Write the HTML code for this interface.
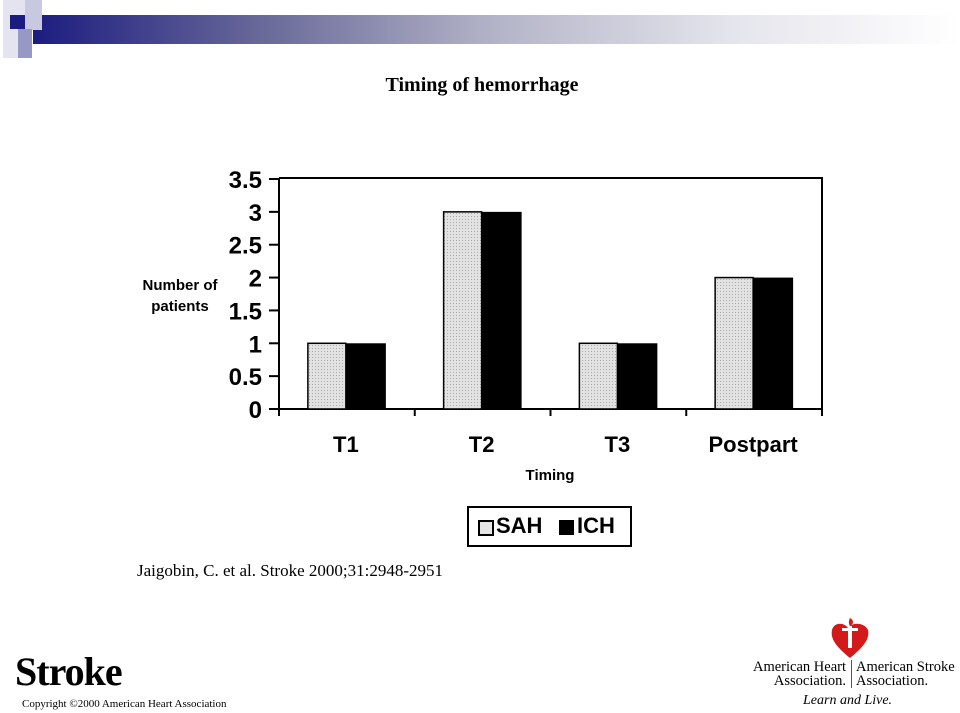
<!DOCTYPE html>
<html><head><meta charset="utf-8"><style>
body{margin:0;width:960px;height:713px;background:#fff;position:relative;overflow:hidden;font-family:"Liberation Serif",serif}
.abs{position:absolute}
.sans{font-family:"Liberation Sans",sans-serif;font-weight:bold}
</style></head><body>
<div class="abs" style="left:33px;top:15px;width:927px;height:29px;background:linear-gradient(to right,#1c1c80,#6a6a9a 25%,#b4b4c8 50%,#e4e4ec 75%,#fff)"></div>
<div class="abs" style="left:3px;top:0;width:23px;height:58px;background:#e4e4f0"></div>
<div class="abs" style="left:10px;top:15px;width:15px;height:14px;background:#1c1c80"></div>
<div class="abs" style="left:25px;top:0px;width:17px;height:30px;background:#c8c8e0"></div>
<div class="abs" style="left:18px;top:29px;width:14px;height:29px;background:#9898c4"></div>
<div class="abs" style="left:0;width:964px;top:74px;text-align:center;font-size:20px;font-weight:bold">Timing of hemorrhage</div>

<svg class="abs" style="left:0;top:0" width="960" height="713">
<defs><pattern id="dots" width="3" height="3" patternUnits="userSpaceOnUse"><rect width="3" height="3" fill="#e2e2e2"/><rect width="1" height="1" fill="#aaa"/></pattern></defs>
<g id="g"></g>
</svg>

<div class="abs sans" style="left:135px;top:275px;width:90px;text-align:center;font-size:15px;line-height:21px">Number of<br>patients</div>
<div class="abs sans" style="left:500px;top:467px;width:100px;text-align:center;font-size:15px">Timing</div>

<div class="abs" style="left:467px;top:506px;width:165px;height:41px;border:2px solid #000;box-sizing:border-box">
 <div class="abs" style="left:9px;top:12px;width:12px;height:12px;border:2px solid #000;background:#e6e6e6"></div>
 <div class="abs sans" style="left:27px;top:5px;font-size:22px">SAH</div>
 <div class="abs" style="left:90px;top:12px;width:15px;height:15px;background:#000"></div>
 <div class="abs sans" style="left:108px;top:5px;font-size:22px">ICH</div>
</div>

<div class="abs" style="left:137px;top:561px;font-size:17px">Jaigobin, C. et al. Stroke 2000;31:2948-2951</div>
<div class="abs" style="left:15px;top:648px;font-size:40px;font-weight:bold;letter-spacing:-1px">Stroke</div>
<div class="abs" style="left:22px;top:698px;font-size:11px">Copyright ©2000 American Heart Association</div>

<svg class="abs" style="left:828px;top:616px" width="44" height="44" viewBox="0 0 44 44">
<path d="M22 42 C10 32 2 24 4 14 C6 6 16 6 20 12 C24 6 36 6 40 14 C42 24 34 32 22 42Z" fill="#d21a1a"/>
<rect x="20" y="10" width="4" height="22" fill="#fff"/><rect x="14" y="12" width="16" height="3" fill="#fff"/>
<path d="M22 2 C26 4 26 8 22 10 C20 7 21 4 22 2Z" fill="#d21a1a"/>
</svg>
<div class="abs" style="left:730px;top:660px;font-size:14.5px;line-height:14px;text-align:right;width:116px">American Heart<br>Association.</div>
<div class="abs" style="left:851px;top:660px;width:1px;height:28px;background:#555"></div>
<div class="abs" style="left:856px;top:660px;font-size:14.5px;line-height:14px;white-space:nowrap">American Stroke<br>Association.</div>
<div class="abs" style="left:803px;top:693px;font-size:14px;font-style:italic">Learn and Live.</div>

<script>
const categories=["T1","T2","T3","Postpart"];
const sah=[1,3,1,2];
const ich=[1,3,1,2];
const yTicks=[0,0.5,1,1.5,2,2.5,3,3.5];
const yTickLabels=["0","0.5","1","1.5","2","2.5","3","3.5"];
const NS="http://www.w3.org/2000/svg";
const g=document.getElementById('g');
const x0=279,x1=822,yb=409,ytop=179;
const y=v=>yb-(v/3.5)*(yb-ytop);
const step=(x1-x0)/4;
const cx=i=>x0+step*(i+0.5)-1;
const bw=38;
function mk(t,a){const e=document.createElementNS(NS,t);for(const k in a)e.setAttribute(k,a[k]);g.appendChild(e);return e;}
let f=mk('path',{d:`M${x0} ${ytop-1} H${x1} V${yb}`,fill:'none',stroke:'#000','stroke-width':2});


let ya=mk('line',{x1:x0,y1:ytop-1,x2:x0,y2:yb+1,stroke:'#000','stroke-width':2});


let xa=mk('line',{x1:x0-10,y1:yb,x2:x1,y2:yb,stroke:'#000','stroke-width':2});


yTicks.forEach((v,i)=>{
 let l=mk('line',{x1:x0-10,y1:y(v),x2:x0,y2:y(v),stroke:'#000','stroke-width':2});
 
 
 let t=mk('text',{x:x0-17,y:y(v)+9,'text-anchor':'end','font-family':'Liberation Sans, sans-serif','font-weight':'bold','font-size':24});
 t.textContent=yTickLabels[i];
 
 
});
for(let i=0;i<=4;i++){
 let l=mk('line',{x1:x0+step*i,y1:yb,x2:x0+step*i,y2:yb+7,stroke:'#000','stroke-width':2});
 
 
}
categories.forEach((c,i)=>{
 let a=mk('rect',{x:cx(i)-bw,y:y(sah[i]),width:bw,height:yb-y(sah[i]),fill:'url(#dots)',stroke:'#000','stroke-width':1.5});
 
 
 let b=mk('rect',{x:cx(i),y:y(ich[i]),width:bw+2,height:yb-y(ich[i]),fill:'#000'});
 
 
 let t=mk('text',{x:cx(i),y:452,'text-anchor':'middle','font-family':'Liberation Sans, sans-serif','font-weight':'bold','font-size':22});
 t.textContent=c;
 
 
});
</script>
</body></html>
